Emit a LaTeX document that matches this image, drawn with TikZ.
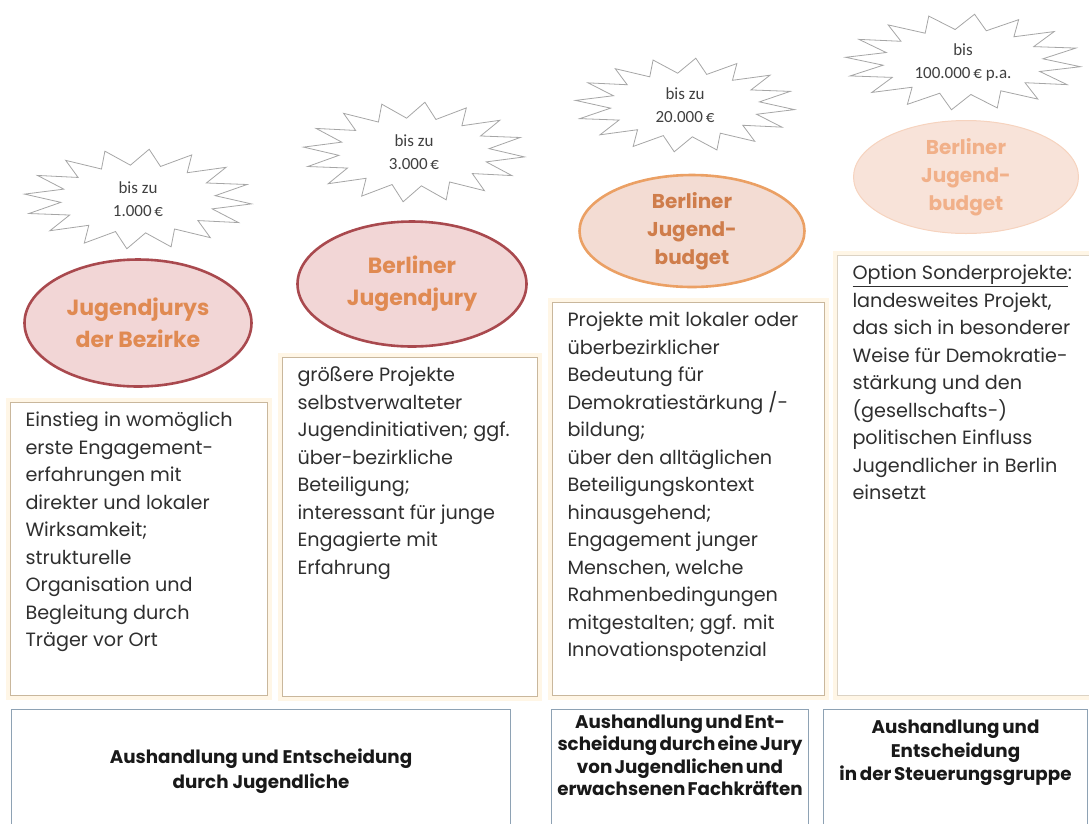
\documentclass[tikz,border=0pt]{standalone}
\usepackage{fontspec}
\setmainfont{Poppins}
\newfontfamily\burstfont{Carlito}
\usepackage{tikz}
\usetikzlibrary{shapes.geometric,positioning}
\usepackage{xcolor}
\definecolor{juryrose}{HTML}{A9494E}
\definecolor{juryfill}{HTML}{F2D6D6}
\definecolor{juryorange}{HTML}{E08A52}
\definecolor{budgetline}{HTML}{EBA064}
\definecolor{budgetfill}{HTML}{F3DCD3}
\definecolor{budgettext}{HTML}{CF7D4B}
\definecolor{paleline}{HTML}{F6D3BE}
\definecolor{palefill}{HTML}{F8E3D9}
\definecolor{paletext}{HTML}{F1B089}
\definecolor{burstgray}{HTML}{A6A6A6}
\definecolor{bursttxt}{HTML}{404040}
\definecolor{boxtan}{HTML}{C9B79C}
\definecolor{boxpale}{HTML}{DCD3C4}
\definecolor{glow}{HTML}{FFF6E6}
\definecolor{bodytext}{HTML}{2F2F2F}
\definecolor{deciderblue}{HTML}{8EA2B4}

% starburst around a coordinate: centre, x radius, y radius
\newcommand{\starburst}[3]{%
  \draw[burstline] ([shift={(5.625:#2 and #3)}]#1)
    \foreach \k [evaluate=\k as \r using 0.84+0.16*cos(180*\k)] in {1,...,31}{
      -- ([shift={({\k*11.25+5.625}:{\r*#2} and {\r*#3})}]#1)} -- cycle;}

\begin{document}
\begin{tikzpicture}[
  x=1pt, y=-1pt,
  burstline/.style={draw=burstgray, fill=white, line width=0.8pt},
  bursttext/.style={font=\burstfont\fontsize{17}{23}\selectfont, text=bursttxt, align=center},
  oval/.style={ellipse, inner sep=0pt, align=center, font=\bfseries\fontsize{22}{32}\selectfont},
  ovaljury/.style={oval, draw=juryrose, fill=juryfill, line width=2.6pt, text=juryorange},
  ovalbudget/.style={oval, draw=budgetline, fill=budgetfill, line width=2.6pt, text=budgettext},
  ovalpale/.style={oval, draw=paleline, fill=palefill, line width=1pt, text=paletext},
  infobox/.style={
    draw=boxtan, fill=white, line width=1pt,
    anchor=north west, inner xsep=15pt, inner ysep=0pt,
    preaction={draw=glow, line width=9pt}
  },
  deciderbox/.style={
    draw=deciderblue, fill=white, line width=1pt,
    anchor=north west, inner sep=0pt,
    font=\bfseries\fontsize{18.3}{25}\selectfont, text=black!90
  }
]
  \useasboundingbox (0,0) rectangle (1089,823);
  \clip (0,0) rectangle (1089,823);

  % --- funding limits ---
  \coordinate (c1) at (138,199);
  \coordinate (c2) at (414,152);
  \coordinate (c3) at (685,105);
  \coordinate (c4) at (963,62);
  \starburst{c1}{114}{50}
  \starburst{c2}{111}{50}
  \starburst{c3}{110}{47}
  \starburst{c4}{118}{48}
  \node[bursttext] (limit1) at (c1) {bis zu\\1.000\,€};
  \node[bursttext] (limit2) at (c2) {bis zu\\3.000\,€};
  \node[bursttext] (limit3) at (c3) {bis zu\\20.000\,€};
  \node[bursttext] (limit4) at (c4) {bis\\100.000\,€ p.a.};

  % --- funds ---
  \node[ovaljury, minimum width=227pt, minimum height=127pt] (fund1) at (138,323) {Jugendjurys\\der Bezirke};
  \node[ovaljury, minimum width=229pt, minimum height=125pt] (fund2) at (412,284) {Berliner\\Jugendjury};
  \node[ovalbudget, minimum width=225pt, minimum height=112pt, inner ysep=-8pt,
        font=\bfseries\fontsize{20}{28}\selectfont] (fund3) at (692,231) {Berliner\\Jugend-\\budget};
  \node[ovalpale, minimum width=225pt, minimum height=113pt, inner ysep=-8pt,
        font=\bfseries\fontsize{20}{28}\selectfont] (fund4) at (966,177) {Berliner\\Jugend-\\budget};

  % --- descriptions ---
  \node[infobox] (info1) at (10,402) {
    \begin{minipage}[t][293pt][t]{227pt}
    \fontsize{19.2}{27.5}\selectfont\raggedright\color{bodytext}
    \vspace*{5pt}\strut Einstieg in womöglich\\
    erste Engagement-\\
    erfahrungen mit\\
    direkter und lokaler\\
    Wirksamkeit;\\
    strukturelle\\
    Organisation und\\
    Begleitung durch\\
    Träger vor Ort
    \end{minipage}
  };
  \node[infobox] (info2) at (282,357) {
    \begin{minipage}[t][339pt][t]{225pt}
    \fontsize{19.2}{27.5}\selectfont\raggedright\color{bodytext}
    \vspace*{5pt}\strut größere Projekte\\
    selbstverwalteter\\
    Jugendinitiativen; ggf.\\
    über-bezirkliche\\
    Beteiligung;\\
    interessant für junge\\
    Engagierte mit\\
    Erfahrung
    \end{minipage}
  };
  \node[infobox] (info3) at (552,302) {
    \begin{minipage}[t][393pt][t]{242pt}
    \fontsize{19.2}{27.5}\selectfont\raggedright\color{bodytext}
    \vspace*{5pt}\strut Projekte mit lokaler oder\\
    überbezirklicher\\
    Bedeutung für\\
    Demokratiestärkung /-\\
    bildung;\\
    über den alltäglichen\\
    Beteiligungskontext\\
    hinausgehend;\\
    Engagement junger\\
    Menschen, welche\\
    Rahmenbedingungen\\
    mitgestalten; ggf. mit\\
    Innovationspotenzial
    \end{minipage}
  };
  \node[infobox, draw=boxpale] (info4) at (837,255) {
    \begin{minipage}[t][440pt][t]{240pt}
    \fontsize{19.2}{27.5}\selectfont\raggedright\color{bodytext}
    \vspace*{5pt}\strut \underline{Option Sonderprojekte}:\\
    landesweites Projekt,\\
    das sich in besonderer\\
    Weise für Demokratie-\\
    stärkung und den\\
    (gesellschafts-)\\
    politischen Einfluss\\
    Jugendlicher in Berlin\\
    einsetzt
    \end{minipage}
  };

  % --- who decides ---
  \node[deciderbox] (decide1) at (11,709) {
    \begin{minipage}[t][130pt][t]{499pt}\centering
    \vspace*{36pt}\strut Aushandlung und Entscheidung\\
    durch Jugendliche
    \end{minipage}
  };
  \node[deciderbox] (decide2) at (551,709) {
    \begin{minipage}[t][130pt][t]{257pt}\centering
    \fontsize{18.3}{22.5}\selectfont\spaceskip=0.12em
    \vspace*{3pt}\strut Aushandlung und Ent-\\
    scheidung durch eine Jury\\
    von Jugendlichen und\\
    erwachsenen Fachkräften
    \end{minipage}
  };
  \node[deciderbox] (decide3) at (823,709) {
    \begin{minipage}[t][130pt][t]{264pt}\centering
    \fontsize{18.3}{23.5}\selectfont\spaceskip=0.15em
    \vspace*{8pt}\strut Aushandlung und\\
    Entscheidung\\
    in der Steuerungsgruppe
    \end{minipage}
  };

\end{tikzpicture}
\end{document}
